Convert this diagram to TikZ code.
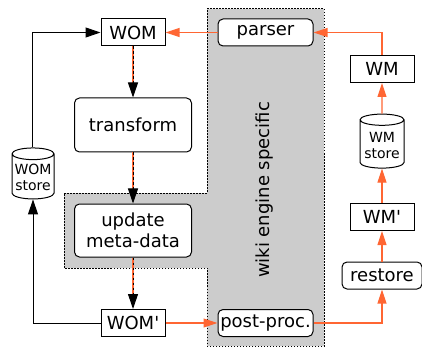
\documentclass[tikz,border=0pt]{standalone}
\usepackage{fontspec}
\setmainfont{DejaVu Sans}
\usetikzlibrary{arrows.meta,shapes.geometric}
\definecolor{wmorange}{RGB}{255,102,51}

\tikzset{
  datbox/.style={draw, line width=1pt, fill=white, minimum width=64pt, minimum height=27pt, inner sep=1pt},
  procbox/.style={draw, line width=1pt, fill=white, rounded corners=5pt, inner sep=1pt},
  store/.style={cylinder, shape border rotate=90, draw, line width=1pt, fill=white, aspect=0.3,
    font=\fontsize{14}{16}\selectfont, align=center, inner sep=1pt},
  flow/.style={-{Triangle[length=15pt,width=10pt]}, line width=1pt},
  wmflow/.style={wmorange, -{Triangle[length=14pt,width=9pt]}, line width=1.1pt},
}

\begin{document}
\begin{tikzpicture}[x=1pt, y=-1pt, font=\fontsize{18}{21}\selectfont]
  \useasboundingbox (0,0) rectangle (422,347);

  % Engine specific area
  \fill[gray!40] (207,9) -- (324,9) -- (324,346) -- (207,346) -- (207,268)
    -- (64,268) -- (64,193) -- (207,193) -- cycle;
  \draw[line width=1pt, dash pattern=on 1.5pt off 1.5pt] (207,9) -- (324,9) -- (324,346)
    -- (207,346) -- (207,268) -- (64,268) -- (64,193) -- (207,193) -- cycle;
  \node[rotate=90] (engine) at (265,190) {wiki engine specific};

  % WOM side
  \node[datbox] (wom) at (133,32.5) {WOM};
  \node[procbox, minimum width=117pt, minimum height=54pt] (transform) at (133,125) {transform};
  \node[procbox, minimum width=117pt, minimum height=53pt, align=center] (update) at (133,230.5) {update\\meta-data};
  \node[datbox] (womx) at (133,323) {WOM\textquotesingle};
  \node[store, minimum width=42pt, minimum height=51pt] (womstore) at (33,177.5) {WOM\\store};

  % Wiki engine
  \node[procbox, minimum width=95pt, minimum height=27pt] (parser) at (265.5,32.5) {parser};
  \node[procbox, minimum width=95pt, minimum height=27pt] (postproc) at (265.5,323) {post-proc.};

  % WM side
  \node[datbox] (wm) at (382,69) {WM};
  \node[store, minimum width=44pt, minimum height=54pt] (wmstore) at (382,145) {WM\\store};
  \node[datbox] (wmx) at (382,217) {WM\textquotesingle};
  \node[procbox, minimum width=80pt, minimum height=27pt] (restore) at (382,275.5) {restore};

  % Transformation chain
  \foreach \from/\to in {wom/transform, transform/update, update/womx} {
    \draw[wmorange, line width=1.2pt, shorten >=8pt] (\from) -- (\to);
    \draw[flow, dash pattern=on 2.5pt off 2.5pt] (\from) -- (\to);
  }

  % Store loop
  \draw[flow] (womstore.north) |- (wom.west);
  \draw[flow] (womx.west) -| (womstore.south);

  % Round trip
  \draw[wmflow] (parser.west) -- (wom.east);
  \draw[wmflow] (wm.north) |- (parser.east);
  \draw[wmflow] (wmstore.north) -- (wm.south);
  \draw[wmflow] (wmx.north) -- (wmstore.south);
  \draw[wmflow] (restore.north) -- (wmx.south);
  \draw[wmflow] (postproc.east) -| (restore.south);
  \draw[wmflow] (womx.east) -- (postproc.west);
\end{tikzpicture}
\end{document}
